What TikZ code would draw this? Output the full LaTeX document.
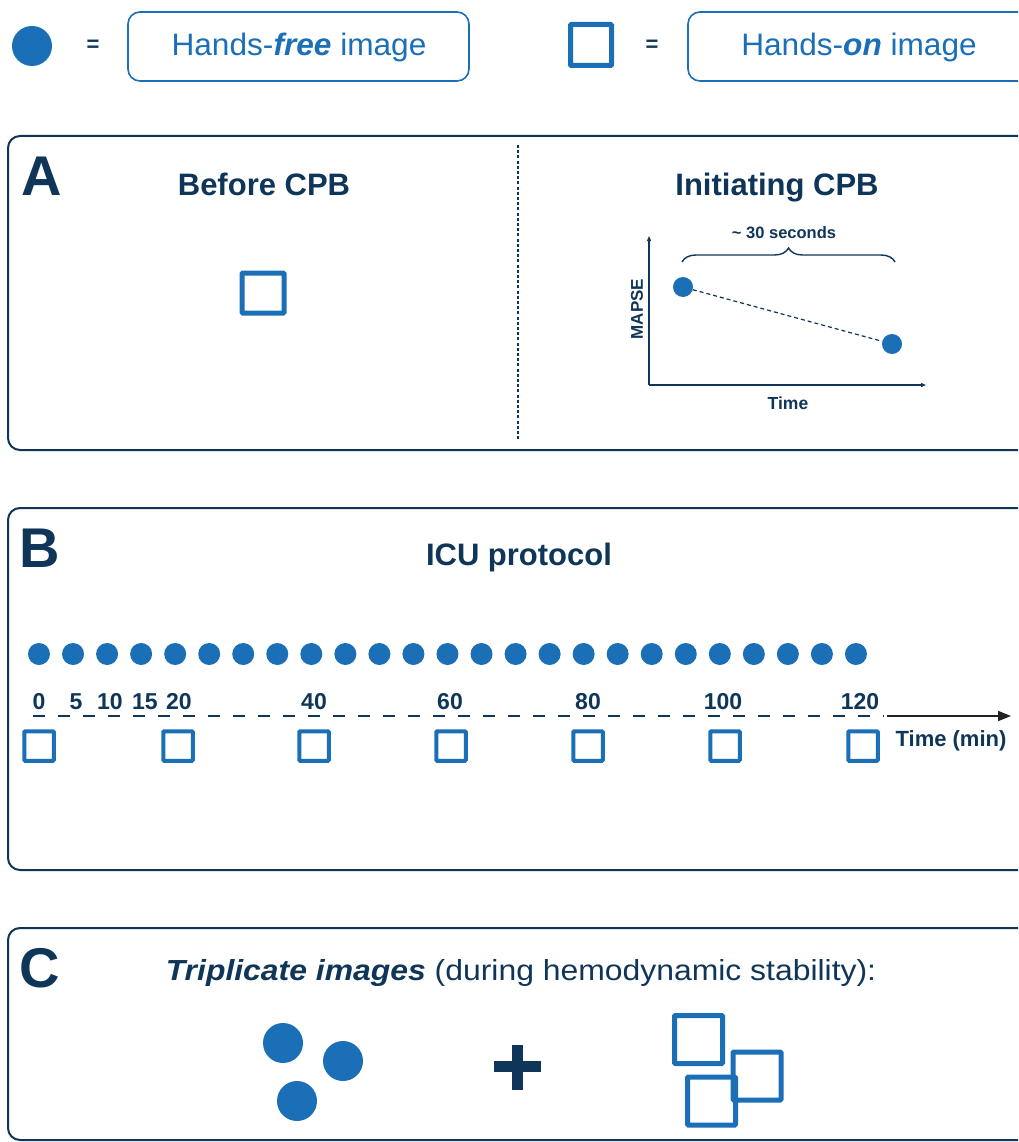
\documentclass[tikz,border=0pt]{standalone}
\usepackage{fontspec}
\setmainfont{Liberation Sans}
\usetikzlibrary{arrows.meta,decorations.pathreplacing}
\definecolor{cblue}{HTML}{1B6FB7}
\definecolor{navy}{HTML}{0F3659}
\definecolor{arrowk}{HTML}{222222}
\newcommand{\fsz}[1]{\fontsize{#1}{#1}\selectfont}
\tikzset{
  panelbox/.style={draw=navy,line width=2pt,rounded corners=12pt},
  legbox/.style={draw=cblue,line width=1.6pt,rounded corners=12pt},
  hfdot/.style={circle,fill=cblue,inner sep=0pt,minimum size=#1},
  hosq/.style={draw=cblue,line width=#1,inner sep=0pt,rounded corners=1pt},
  paneltag/.style={text=navy,font=\bfseries\fsz{56},inner sep=0pt},
  ptitle/.style={text=navy,font=\bfseries\fsz{31},inner sep=0pt,anchor=base},
  tlab/.style={text=navy,font=\bfseries\fsz{23},inner sep=0pt},
  eqsign/.style={text=navy,font=\bfseries\fsz{22},inner sep=0pt},
  legtext/.style={text=cblue,font=\fsz{31},inner sep=0pt,anchor=base,xscale=1.02},
}
\begin{document}
\begin{tikzpicture}[x=1pt,y=-1pt]
\clip (0,0) rectangle (1018,1142);
\fill[white] (0,0) rectangle (1018,1142);

% ---------- legend ----------
\node[hfdot=40pt] (legdot) at (32,46) {};
\node[eqsign] (eq1) at (93,46) {=};
\draw[legbox] (128,12) rectangle (469,81);
\node[legtext] (legfree) at (299,56) {Hands-\textbf{\itshape free} image};
\node[hosq=5pt,minimum size=41pt] (legsq) at (591,45) {};
\node[eqsign] (eq2) at (652,46) {=};
\draw[legbox] (688,12) rectangle (1040,81);
\node[legtext] (legon) at (859,56) {Hands-\textbf{\itshape on} image};

% ---------- panel A ----------
\draw[panelbox] (8,136) rectangle (1040,450);
\node[paneltag] (tagA) at (42,176) {A};
\draw[navy,line width=1.5pt,dash pattern=on 3pt off 2.2pt] (518,145) -- (518,440);
\node[ptitle] (tbefore) at (264,196) {Before CPB};
\node[hosq=5pt,minimum width=42pt,minimum height=40pt] (sqA) at (263,293) {};
\node[ptitle] (tinit) at (777,196) {Initiating CPB};
% graph
\coordinate (orig) at (649,385);
\coordinate (ytop) at (649,236);
\coordinate (xend) at (926,385);
\draw[navy,line width=1.2pt,-{Triangle[length=5pt,width=4pt]}] (orig) -- (ytop);
\draw[navy,line width=1.2pt,-{Triangle[length=5pt,width=4pt]}] (orig) -- (xend);
\node[hfdot=20pt] (p1) at (683,287) {};
\node[hfdot=20pt] (p2) at (892,344) {};
\draw[navy,line width=1.2pt,dash pattern=on 4pt off 3pt] (p1) -- (p2);
\coordinate (brl) at (682,262);
\coordinate (brr) at (895,262);
\draw[navy,line width=1.4pt,decorate,decoration={brace,amplitude=14pt,aspect=0.5}] (brl) -- (brr);
\node[text=navy,font=\bfseries\fsz{16.5},inner sep=0pt,anchor=base] (secs) at (784,238) {\textasciitilde\ 30 seconds};
\node[text=navy,font=\bfseries\fsz{17},inner sep=0pt,rotate=90] (mapse) at (637,309) {MAPSE};
\node[text=navy,font=\bfseries\fsz{17.5},inner sep=0pt] (timeA) at (788,403) {Time};

% ---------- panel B ----------
\draw[panelbox] (8,508) rectangle (1040,870);
\node[paneltag] (tagB) at (40,548) {B};
\node[ptitle] (ticu) at (519,565) {ICU protocol};
\foreach \k in {0,...,24} {
  \node[hfdot=22pt] (d\k) at ({39+34.04*\k},654) {};
}
\coordinate (tl0) at (33,716);
\coordinate (tl1) at (884,716);
\coordinate (tl2) at (1011,716);
\draw[navy,line width=2pt,dash pattern=on 12pt off 13pt] (tl0) -- (tl1);
\draw[arrowk,line width=1.6pt,-{Triangle[length=13pt,width=10pt]}] (tl1) ++(3,0) -- (tl2);
\node[tlab] (l0) at (39,702) {0};
\node[tlab] (l5) at (76,702) {5};
\node[tlab] (l10) at (110,702) {10};
\node[tlab] (l15) at (145,702) {15};
\node[tlab] (l20) at (179,702) {20};
\node[tlab] (l40) at (314,702) {40};
\node[tlab] (l60) at (450,702) {60};
\node[tlab] (l80) at (588,702) {80};
\node[tlab] (l100) at (723,702) {100};
\node[tlab] (l120) at (860,702) {120};
\foreach \x/\n in {39/0,178/1,314/2,451/3,588/4,725/5,863/6} {
  \node[hosq=4pt,minimum size=29.5pt] (s\n) at (\x,746) {};
}
\node[text=navy,font=\bfseries\fsz{22},inner sep=0pt] (tmin) at (951,741) {Time (min)};

% ---------- panel C ----------
\draw[panelbox] (8,928) rectangle (1040,1140);
\node[paneltag] (tagC) at (40,968) {C};
\node[text=navy,font=\fsz{29},inner sep=0pt,anchor=base,xscale=1.1] (ctext) at (521,980) {\textbf{\itshape Triplicate images} (during hemodynamic stability):};
\node[hfdot=40pt] (c1) at (283,1043) {};
\node[hfdot=40pt] (c2) at (343,1061) {};
\node[hfdot=40pt] (c3) at (297,1101) {};
\fill[navy] (494,1060.5) rectangle (541,1071.5);
\fill[navy] (512,1045) rectangle (523,1090);
\node[hosq=5pt,minimum size=48pt] (q1) at (698.5,1039.5) {};
\node[hosq=5pt,minimum size=48pt] (q2) at (757,1076) {};
\node[hosq=5pt,minimum size=48pt] (q3) at (711.5,1101) {};
\end{tikzpicture}
\end{document}
